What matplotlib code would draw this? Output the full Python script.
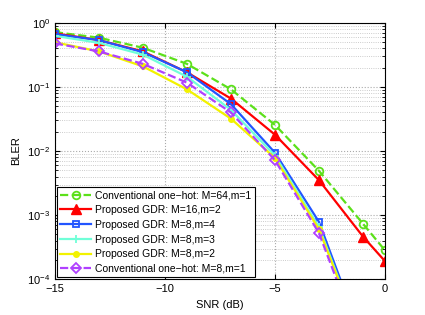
import numpy as np
import matplotlib
matplotlib.use('Agg')
import matplotlib.pyplot as plt

plt.rcParams['font.family'] = ['Liberation Sans', 'DejaVu Sans']
plt.rcParams['font.size'] = 8

# 数据
snr = [-15, -13, -11, -9, -7, -5, -3, -1, 0]
conv_64_1 = [0.72, 0.59, 0.41, 0.23, 0.092, 0.0256, 0.0049, 7.3e-4, 2.8e-4]
gdr_16_2 = [0.69, 0.54, 0.36, 0.17, 0.066, 0.018, 0.0035, 4.6e-4, 1.9e-4]
gdr_8_4 = [0.67, 0.54, 0.35, 0.17, 0.054, 0.0094, 7.8e-4, 1.1e-5, 1.5e-6]
gdr_8_3 = [0.63, 0.49, 0.32, 0.145, 0.044, 0.0085, 6.5e-4, 1.0e-5, 1.3e-6]
gdr_8_2 = [0.50, 0.36, 0.21, 0.092, 0.032, 0.0078, 6.0e-4, 1.0e-5, 1.3e-6]
conv_8_1 = [0.48, 0.36, 0.23, 0.117, 0.040, 0.0072, 5.2e-4, 8.0e-6, 1.0e-6]

labels = ['Conventional one\u2212hot: M=64,m=1', 'Proposed GDR: M=16,m=2',
          'Proposed GDR: M=8,m=4', 'Proposed GDR: M=8,m=3',
          'Proposed GDR: M=8,m=2', 'Conventional one\u2212hot: M=8,m=1']

fig = plt.figure(figsize=(4.25, 3.15), dpi=100)
ax = fig.add_axes([0.129, 0.114, 0.777, 0.813])

ax.semilogy(snr, conv_64_1, '--o', color='#5ce01a', lw=1.6, ms=5.5, mfc='none', mew=1.3, label=labels[0])
ax.semilogy(snr, gdr_16_2, '-^', color='#ff0000', lw=1.6, ms=6.5, label=labels[1])
ax.semilogy(snr, gdr_8_4, '-s', color='#2255ff', lw=1.6, ms=5, mfc='none', mew=1.3, label=labels[2])
ax.semilogy(snr, gdr_8_3, '-+', color='#70ffd8', lw=1.6, ms=6, mew=1.3, label=labels[3])
ax.semilogy(snr, gdr_8_2, '-o', color='#f2f200', lw=1.6, ms=4, label=labels[4])
ax.semilogy(snr, conv_8_1, '--D', color='#b040ff', lw=1.6, ms=5, mfc='none', mew=1.3, label=labels[5])

ax.set_xlim(-15, 0)
ax.set_ylim(1e-4, 1)
ax.set_xticks([-15, -10, -5, 0])
ax.set_xticklabels(['\u221215', '\u221210', '\u22125', '0'])
ax.grid(True, which='major', linestyle=':', color='#aaaaaa', lw=0.8)
ax.grid(True, which='minor', linestyle=':', color='#bbbbbb', lw=0.6)
ax.tick_params(which='both', direction='in', top=True, right=True, labelsize=8)
ax.set_xlabel('SNR (dB)', fontsize=8)
ax.set_ylabel('BLER', fontsize=8)

leg = ax.legend(loc='lower left', fontsize=7.5, fancybox=False, edgecolor='black',
                framealpha=1, borderaxespad=0.2, handlelength=3, labelspacing=0.45,
                borderpad=0.3, handletextpad=0.4)
leg.get_frame().set_linewidth(0.8)

plt.savefig('out.png', dpi=100)
